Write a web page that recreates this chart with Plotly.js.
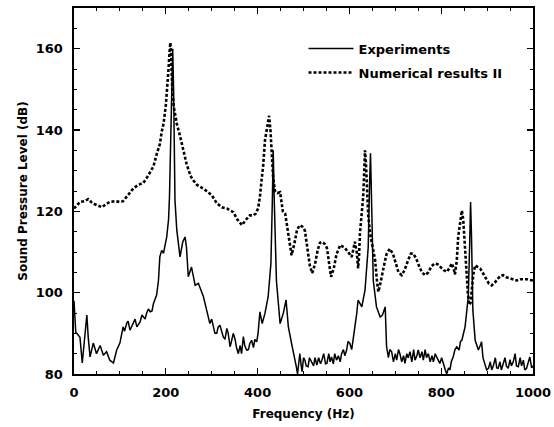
<!DOCTYPE html>
<html>
<head>
<meta charset="utf-8">
<script src="https://cdn.plot.ly/plotly-3.0.1.min.js"></script>
<style>html,body{margin:0;padding:0;background:#fff;}#chart{width:554px;height:427px;}</style>
</head>
<body>
<div id="chart"></div>
<script>
// Experiments
const expFreq = [0,4,6,13,18,24,28,31,35,42,49,57,64,71,78,86,93,100,107,110,115,118,122,125,129,133,137,140,144,148,151,155,158,162,166,170,173,177,180,184,187,191,195,202,206,208,211,213,215,217,219,220,224,231,237,242,245,249,256,264,271,282,289,296,300,304,307,311,314,318,321,325,329,333,336,340,343,347,351,354,358,362,365,369,372,376,380,383,387,391,394,398,401,405,410,416,423,429,432,434,436,438,441,449,456,462,467,474,481,484,487,490,492,495,497,500,503,506,510,513,518,522,525,529,533,537,540,544,548,551,555,558,561,565,568,572,576,580,583,587,590,594,597,601,605,609,612,616,619,627,634,641,644,646,648,652,659,667,672,678,681,685,688,692,696,700,703,707,710,714,718,721,725,728,732,736,740,743,747,750,754,758,761,765,768,772,776,780,783,787,790,794,797,801,805,809,812,816,819,822,826,830,834,839,842,845,852,859,862,864,866,869,874,881,885,888,891,895,899,903,907,910,914,918,921,924,928,931,935,939,942,946,950,953,957,961,964,968,972,975,979,982,986,990,993,997,1000];
const expSPL = [98,90,90,89,82.7,89,94.5,89,84.2,87.6,85,87,84.6,85.5,83.4,82.7,85.9,87.6,91.6,90.5,92.5,93,90.8,91.5,92.5,93.5,91.6,92,92.8,94.5,94,93.5,94.9,96,95.3,95.5,97.3,98.5,99.4,103,108.8,110.4,109.7,113.7,118,123.5,140,155,160,150,130,122.7,115.3,108.8,112.5,113.7,111.2,103.9,106.3,101.8,102.3,99,95.7,92.4,93.5,91.6,90,90,91.5,92,90.5,89.2,88.5,91.2,90,86.7,88,90,88.5,86.5,85,87,85,89.2,87,85.9,86,87.5,88.3,86.5,88.5,87.9,90,95.3,92.4,94.9,99,107.2,122,135,124,112,103,92.4,94.9,98.2,91.6,87.5,84.2,82,80,83,85,82,80.6,84,83.4,82,81.8,84,83,82,84,82.2,84,82.5,83.4,85,82.5,82.6,85,83,84.2,82.5,85,83.4,84.5,83,85,86,84.5,85.9,88,87.5,86,89.2,91,94.9,98.2,96.5,100.6,111.2,127,134.3,124,103,96.5,94,94.5,96.5,86.7,84,86,85.5,83,85,83.4,86,85,83,84.5,82.6,85,84,85.5,83,86,83.4,84.5,85.9,84,85.5,83.4,86,84,85,83,84.5,83,85,84.2,83,82.6,84,82.2,81,80,81.5,81,83,84.2,86,86.7,85.9,88,88.3,91.6,99,112,122.3,114,95.7,88.3,85.9,87,87.9,84,82.6,81,81.4,83,81,82.2,84,81.5,81.4,83,81,82.6,84,82,81.4,83.5,82,83,85,82,81.8,84,82,83.4,81,81.4,83,84.2,81.5,82];

// Numerical results II
const numFreq = [0,6,13,22,31,40,50,61,70,78,90,100,107,118,129,140,151,160,166,173,180,187,191,195,200,203,206,208,210,212,214,217,220,224,230,235,240,245,250,255,260,268,275,283,292,300,311,322,333,347,356,366,375,383,391,396,401,405,409,412,416,420,425,428,430,432,434,438,443,449,452,455,460,466,474,480,486,492,497,503,510,514,519,525,531,536,540,546,551,556,560,566,572,580,590,597,605,612,616,619,621,623,627,630,632,634,636,638,641,645,650,656,660,663,667,670,676,681,688,695,702,707,714,720,728,734,739,745,752,758,765,772,779,786,792,800,806,812,818,823,827,830,834,837,841,845,848,851,855,858,861,864,867,870,874,880,885,890,897,904,910,917,924,930,935,942,950,957,965,972,980,986,993,1000];
const numSPL = [120.7,121.5,122.3,122.5,123,122,121.5,121,121.8,122.3,122.5,122.3,122.5,124,125.6,126.5,127,128.5,129.5,131,134,136.5,139.5,141.5,146,150,155,159,161.5,157,150,146,143.5,141.5,139,136.5,134,131.8,130,128.5,127.6,126.5,126,125.5,124.7,124,122,121,120.7,119.8,118,116.6,118,119,119,119.5,120.7,123.5,128,131,137.4,140.5,143.5,140,135,130.5,128,125,124.5,124.7,122.5,120,119.5,115.3,109.2,112,115.5,116.6,116.3,115.3,110,106.5,104.8,107,110.5,112.3,112.5,112,111,107,103.9,106,109.5,111.7,111,110,108.8,112.5,110,106,109,114.6,119.5,123.5,129,135,132,126,119,114.6,111.5,108,103,100.2,102,103.9,107,109.5,110.8,109.5,107,105,104.3,105.5,108,109.6,109.6,108.5,106.5,105,104.3,105,106.5,107.2,107,106,105.5,105.1,106,107.2,106,104.5,108,113.7,117.5,120.2,118,112,105,100,97,97.5,101,104.5,106.7,106.2,105.9,105,103.5,102.2,101.8,102.5,103.5,104.2,104.3,103.8,103.5,103.2,103,103.3,103.3,103.3,103.1,103];

const seriesNames = ["Experiments", "Numerical results II"];
const xTitle = "Frequency (Hz)";
const yTitle = "Sound Pressure Level (dB)";

const FONT = "DejaVu Sans, Liberation Sans, Arial, sans-serif";

const traces = [
  {x: expFreq, y: expSPL, name: seriesNames[0], type: 'scatter', mode: 'lines', legendgroup: 'a',
   line: {color: '#000', width: 1.5}},
  {x: numFreq, y: numSPL, name: seriesNames[1], type: 'scatter', mode: 'lines', legendgroup: 'b',
   line: {color: '#000', width: 2.6, dash: '3px,2px'}}
];

const axisCommon = {
  showline: true, linecolor: '#000', linewidth: 1.6, mirror: 'allticks',
  ticks: 'inside', ticklen: 6, tickwidth: 1.2, tickcolor: '#000',
  showgrid: false, zeroline: false,
  tickfont: {family: FONT, size: 13, color: '#000', weight: 'bold'}
};

const layout = {
  width: 554, height: 427,
  margin: {l: 74, r: 21, t: 8, b: 53},
  paper_bgcolor: '#fff', plot_bgcolor: '#fff',
  showlegend: true,
  legend: {x: 0.5, y: 0.93, xanchor: 'left', yanchor: 'top', bgcolor: 'rgba(0,0,0,0)',
           itemwidth: 45, traceorder: 'grouped', tracegroupgap: 4,
           font: {family: FONT, size: 13, color: '#000', weight: 'bold'}},
  xaxis: Object.assign({}, axisCommon, {
    range: [0, 1000], tick0: 0, dtick: 200,
    minor: {dtick: 50, ticks: 'inside', ticklen: 3, tickcolor: '#000', tickwidth: 1},
    title: {text: xTitle, font: {family: FONT, size: 12, color: '#000', weight: 'bold'}, standoff: 10},
    ticklabelstandoff: 6
  }),
  yaxis: Object.assign({}, axisCommon, {
    range: [80, 170], tick0: 80, dtick: 20,
    minor: {dtick: 5, ticks: 'inside', ticklen: 3, tickcolor: '#000', tickwidth: 1},
    title: {text: yTitle, font: {family: FONT, size: 12, color: '#000', weight: 'bold'}, standoff: 5},
    ticklabelstandoff: 7
  })
};

Plotly.newPlot('chart', traces, layout, {displayModeBar: false, staticPlot: true});
</script>
</body>
</html>
